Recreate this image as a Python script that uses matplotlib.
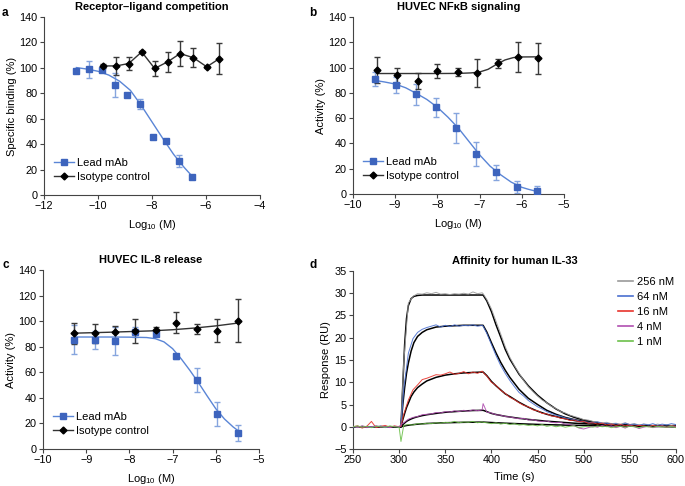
import numpy as np
import matplotlib
matplotlib.use("Agg")
import matplotlib.pyplot as plt
from matplotlib.lines import Line2D

plt.rcParams['font.family'] = ['Liberation Sans', 'DejaVu Sans']
plt.rcParams['font.size'] = 7.5
plt.rcParams['mathtext.fontset'] = 'custom'
plt.rcParams['mathtext.rm'] = 'Liberation Sans'
plt.rcParams['mathtext.default'] = 'regular'

# ---- panel a: receptor-ligand competition
a_lead_x = [-10.81, -10.33, -9.86, -9.38, -8.91, -8.43, -7.95, -7.48, -7.0, -6.52]
a_lead_y = [97.6, 98.7, 97.9, 86.4, 79.0, 71.4, 45.3, 42.7, 26.7, 14.1]
a_lead_err = [1.5, 7.0, 1.5, 9.5, 1.0, 4.0, 1.0, 1.0, 5.0, 1.5]
a_lead_fit_x = [-10.8, -10.4, -10.0, -9.6, -9.2, -8.8, -8.4, -8.0, -7.6, -7.2, -6.8, -6.5]
a_lead_fit_y = [100.2, 99.0, 97.3, 94.3, 89.5, 82.3, 70.5, 57.5, 44.5, 32.0, 21.5, 14.5]
a_iso_x = [-9.8, -9.32, -8.86, -8.38, -7.9, -7.42, -6.96, -6.47, -5.97, -5.5]
a_iso_y = [101.5, 101.5, 103.4, 112.5, 99.5, 104.7, 111.2, 108.0, 100.8, 107.3]
a_iso_err = [1.5, 7.0, 5.0, 1.0, 6.0, 8.0, 10.0, 7.5, 1.0, 12.0]

# ---- panel b: HUVEC NFkB signaling
b_lead_x = [-9.47, -8.99, -8.51, -8.03, -7.56, -7.08, -6.61, -6.12, -5.65]
b_lead_y = [90.9, 86.2, 78.8, 68.6, 52.0, 31.8, 17.1, 5.5, 2.1]
b_lead_err = [5.5, 6.0, 8.5, 7.5, 12.0, 9.5, 6.0, 4.5, 4.5]
b_lead_fit_x = [-9.47, -9.25, -9.0, -8.75, -8.5, -8.25, -8.0, -7.75, -7.5, -7.25,
                -7.0, -6.75, -6.5, -6.25, -6.0, -5.85, -5.65]
b_lead_fit_y = [89.8, 88.6, 87.0, 84.0, 79.6, 74.8, 68.6, 60.8, 52.0, 41.5,
                31.0, 22.0, 15.2, 9.4, 5.3, 3.8, 2.1]
b_iso_x = [-9.42, -8.95, -8.47, -8.0, -7.52, -7.05, -6.57, -6.09, -5.61]
b_iso_y = [98.0, 93.8, 89.3, 97.0, 96.4, 95.4, 103.5, 108.5, 107.2]
b_iso_err = [10.5, 6.0, 6.5, 5.5, 3.0, 11.0, 3.5, 12.0, 12.0]
b_iso_fit_x = [-9.42, -8.0, -7.5, -7.2, -7.0, -6.8, -6.6, -6.4, -6.2, -6.0, -5.6]
b_iso_fit_y = [95.3, 95.3, 95.4, 95.8, 96.5, 98.6, 102.5, 106.0, 107.9, 108.4, 108.5]

# ---- panel c: HUVEC IL-8 release
c_lead_x = [-9.28, -8.8, -8.33, -7.86, -7.38, -6.91, -6.44, -5.97, -5.49]
c_lead_y = [85.5, 85.0, 84.7, 91.5, 90.2, 72.5, 54.0, 27.6, 12.8]
c_lead_err = [11.5, 7.0, 11.0, 4.0, 2.0, 2.0, 9.5, 9.3, 6.3]
c_lead_fit_x = [-9.28, -8.5, -8.0, -7.6, -7.4, -7.2, -7.0, -6.8, -6.6, -6.4,
                -6.2, -6.0, -5.8, -5.6, -5.49]
c_lead_fit_y = [87.6, 87.6, 87.5, 87.2, 86.3, 83.8, 78.5, 70.5, 61.5, 51.8,
                41.5, 31.5, 23.5, 17.3, 14.5]
c_iso_x = [-9.28, -8.8, -8.33, -7.86, -7.38, -6.91, -6.44, -5.97, -5.49]
c_iso_y = [90.5, 90.5, 91.2, 92.3, 92.8, 98.8, 93.9, 92.5, 100.4]
c_iso_err = [8.0, 7.5, 5.0, 9.5, 3.0, 8.3, 4.0, 9.0, 17.0]
c_iso_fit_x = [-9.28, -8.5, -7.5, -7.0, -6.5, -6.0, -5.49]
c_iso_fit_y = [90.6, 91.3, 92.4, 93.3, 94.6, 96.3, 98.5]

# ---- panel d: affinity for human IL-33 (sensorgrams)
conc_labels = ['256 nM', '64 nM', '16 nM', '4 nM', '1 nM']
conc_colors = ['#9a9a9a', '#4a6fcf', '#e8342c', '#b04fb0', '#6cc04a']
t_raw = list(range(250, 301, 5)) + [302] + list(range(305, 391, 5)) + [391] + list(range(395, 601, 5))
raw_256 = [0.1, -0.2, 0.2, 0.0, -0.1, 0.2, 0.1, -0.2, 0.1, 0.0, 0.1, 0.2,
           14.5, 27.8, 29.3, 29.9, 29.8, 30.1, 29.9, 30.2, 29.8, 29.9, 29.7, 29.9, 29.8, 30.0, 29.8, 30.3, 29.9, 30.1, 29.9,
           28.6, 26.5, 23.7, 20.9, 18.0, 15.6, 13.7, 12.0, 10.4, 9.0, 7.9, 6.9, 6.0, 5.4, 4.6, 4.1, 3.4, 3.1, 2.6, 2.3, 2.0,
           1.6, 1.5, 1.2, 1.1, 0.9, 1.0, 0.7, 0.8, 0.6, 0.9, 0.5, 0.7, 0.4, 0.6, 0.5, 0.3, 0.6, 0.4, 0.5, 0.3, 0.5]
raw_64 = [-0.1, 0.1, -0.2, 0.1, 0.0, -0.1, 0.2, -0.1, 0.0, 0.1, -0.1, 0.1,
          8.5, 16.5, 19.8, 21.2, 21.9, 22.3, 22.6, 22.9, 22.4, 22.8, 22.5, 22.9, 22.6, 22.8, 22.7, 22.9, 22.6, 22.8, 22.6,
          21.0, 18.5, 16.0, 13.8, 12.0, 10.4, 9.0, 7.7, 6.9, 5.9, 5.2, 4.5, 4.0, 3.4, 3.0, 2.6, 2.4, 2.0, 1.8, 1.6, 1.3,
          1.2, 1.0, 0.9, 1.1, 0.7, 0.8, 0.5, 0.7, 0.4, 0.8, 0.5, 0.6, 0.3, 0.6, 0.4, 0.7, 0.3, 0.6, 0.4, 0.7, 0.5]
raw_16 = [0.0, 0.2, -0.3, 0.1, 1.2, -0.2, 0.1, 0.3, -0.1, 0.2, 0.0, 0.1,
          2.8, 6.0, 8.3, 9.4, 10.6, 10.9, 11.3, 11.7, 11.6, 11.9, 12.3, 11.8, 12.0, 12.4, 11.9, 12.3, 12.0, 12.5, 12.2,
          11.4, 10.0, 9.3, 8.2, 7.5, 6.6, 6.1, 5.4, 4.8, 4.5, 3.8, 3.6, 3.0, 2.9, 2.4, 2.3, 1.9, 1.8, 1.4, 1.5, 1.1,
          1.2, 0.8, 0.9, 0.6, 0.8, 0.4, 0.6, 0.3, 0.5, 0.2, 0.4, 0.1, 0.3, 0.2, 0.0, 0.3, 0.1, 0.2, -0.1, 0.2, 0.1]
raw_4 = [0.1, -0.1, 0.2, -0.2, 0.0, 0.2, -0.1, 0.1, -0.2, 0.1, 0.0, 0.5,
         0.9, 1.7, 2.1, 2.3, 2.7, 2.8, 2.9, 3.2, 3.1, 3.4, 3.3, 3.6, 3.4, 3.7, 3.5, 3.8, 3.6, 3.8, 5.2,
         3.3, 3.1, 2.7, 2.6, 2.3, 2.2, 2.0, 1.8, 1.9, 1.5, 1.6, 1.3, 1.2, 1.3, 1.0, 0.9, 1.0, 0.6, 0.5, 0.2, -0.3,
         -0.5, -0.2, 0.1, -0.1, 0.3, 0.0, 0.2, -0.2, 0.1, -0.3, 0.2, 0.0, -0.4, -0.1, 0.1, -0.2, 0.0, 0.2, -0.1, 0.1, 0.0]
raw_1 = [0.0, 0.2, -0.1, 0.1, -0.2, 0.1, 0.0, -0.1, 0.2, 0.0, -0.1, -3.3,
         0.3, 0.5, 0.4, 0.7, 0.6, 0.8, 0.7, 0.9, 0.8, 1.0, 0.9, 1.2, 0.9, 1.1, 1.0, 1.2, 0.9, 1.1, 1.0,
         0.9, 0.7, 0.9, 0.6, 0.8, 0.5, 0.7, 0.4, 0.5, 0.3, 0.4, 0.2, 0.5, 0.1, 0.3, 0.0, 0.2, -0.1, 0.1, 0.2, -0.2,
         0.0, 0.1, -0.1, 0.2, 0.0, 0.1, -0.2, 0.0, 0.1, -0.1, 0.1, 0.0, -0.2, 0.1, 0.0, -0.1, 0.1, 0.0, -0.1, 0.1, -0.2]

t_fit = [250, 302, 304, 306, 308, 310, 313, 316, 320, 325, 330, 340, 350, 360, 370, 380, 391,
         395, 400, 405, 410, 415, 420, 430, 440, 450, 460, 470, 480, 490, 500, 520, 540, 560, 580, 600]
fit_256 = [0, 0, 9.5, 18.5, 24.3, 27.2, 28.8, 29.3, 29.5, 29.6, 29.6, 29.6, 29.6, 29.6, 29.6, 29.6, 29.6,
           28.3, 25.9, 22.9, 20.2, 17.4, 15.2, 11.8, 9.2, 7.1, 5.4, 4.0, 2.9, 2.1, 1.5, 0.7, 0.35, 0.2, 0.1, 0.05]
fit_64 = [0, 0, 5.0, 8.8, 12.0, 14.3, 17.0, 18.9, 20.3, 21.2, 21.8, 22.4, 22.6, 22.7, 22.8, 22.8, 22.8,
          21.3, 18.9, 16.6, 14.5, 12.7, 11.1, 8.4, 6.4, 5.0, 3.7, 2.8, 2.1, 1.6, 1.2, 0.65, 0.35, 0.2, 0.1, 0.05]
fit_16 = [0, 0, 1.6, 3.0, 4.3, 5.3, 6.8, 7.8, 8.8, 9.6, 10.3, 11.1, 11.6, 11.9, 12.1, 12.2, 12.3,
          11.5, 10.2, 9.2, 8.3, 7.4, 6.8, 5.5, 4.4, 3.5, 2.8, 2.3, 1.8, 1.4, 1.1, 0.7, 0.4, 0.25, 0.15, 0.1]
fit_4 = [0, 0, 0.45, 0.85, 1.2, 1.45, 1.75, 2.0, 2.25, 2.5, 2.7, 3.0, 3.25, 3.4, 3.55, 3.65, 3.7,
         3.4, 3.0, 2.75, 2.55, 2.35, 2.2, 1.9, 1.65, 1.45, 1.25, 1.1, 0.95, 0.8, 0.7, 0.5, 0.35, 0.25, 0.18, 0.12]
fit_1 = [0, 0, 0.1, 0.2, 0.28, 0.35, 0.43, 0.5, 0.58, 0.66, 0.73, 0.83, 0.9, 0.95, 1.0, 1.02, 1.05,
         1.0, 0.95, 0.9, 0.85, 0.8, 0.76, 0.68, 0.6, 0.53, 0.47, 0.42, 0.37, 0.33, 0.29, 0.22, 0.17, 0.13, 0.1, 0.08]

raw_all = [raw_256, raw_64, raw_16, raw_4, raw_1]
fit_all = [fit_256, fit_64, fit_16, fit_4, fit_1]

blue_mk = '#3d64bd'
blue_ln = '#5a85d6'
blue_err = '#86a5de'

fig = plt.figure(figsize=(6.85, 4.86), dpi=100)
ax_a = fig.add_axes([0.0642, 0.5988, 0.3153, 0.3663])
ax_b = fig.add_axes([0.5153, 0.6008, 0.3080, 0.3642])
ax_c = fig.add_axes([0.0628, 0.0761, 0.3153, 0.3683])
ax_d = fig.add_axes([0.5153, 0.0761, 0.4715, 0.3663])


def style(ax):
    for s in ['top', 'right']:
        ax.spines[s].set_visible(False)
    ax.spines['left'].set_color('#444444')
    ax.spines['bottom'].set_color('#444444')
    ax.tick_params(direction='out', length=3, width=0.8, color='#444444', labelsize=7.8, pad=1.5)


def dose_panel(ax, lead, iso, iso_fit, title, ylabel, xlim, xticks):
    lx, ly, le, fx, fy = lead
    ix, iy, ie = iso
    ax.errorbar(lx, ly, yerr=le, fmt='none', ecolor=blue_err, elinewidth=1, capsize=2, capthick=1, zorder=2)
    ax.plot(fx, fy, color=blue_ln, lw=1, zorder=3)
    ax.errorbar(ix, iy, yerr=ie, fmt='none', ecolor='#3a3a3a', elinewidth=1, capsize=2, capthick=1, zorder=2)
    if iso_fit is None:
        ax.plot(ix, iy, color='#333333', lw=1, zorder=3)
    else:
        ax.plot(iso_fit[0], iso_fit[1], color='#333333', lw=1, zorder=3)
    ax.plot(lx, ly, 's', color=blue_mk, ms=4, zorder=4)
    ax.plot(ix, iy, 'D', color='black', ms=3.5, zorder=4)
    h1 = Line2D([], [], ls='-', marker='s', color=blue_ln, mfc=blue_mk, mec=blue_mk, ms=4, lw=1)
    h2 = Line2D([], [], ls='-', marker='D', color='#333333', mfc='black', mec='black', ms=3.5, lw=1)
    ax.legend([h1, h2], ['Lead mAb', 'Isotype control'], loc='lower left', bbox_to_anchor=(0.02, 0.04),
              frameon=False, fontsize=8, handlelength=1.8, handletextpad=0.3, labelspacing=0.4, borderpad=0)
    ax.set_xlim(*xlim)
    ax.set_ylim(0, 140)
    ax.set_xticks(xticks)
    ax.set_yticks(range(0, 141, 20))
    ax.set_title(title, fontsize=8, fontweight='bold', pad=5)
    ax.set_ylabel(ylabel, fontsize=8, labelpad=2)
    ax.set_xlabel('Log$_{10}$ (M)', fontsize=8, labelpad=5)
    style(ax)


dose_panel(ax_a, (a_lead_x, a_lead_y, a_lead_err, a_lead_fit_x, a_lead_fit_y),
           (a_iso_x, a_iso_y, a_iso_err), None,
           'Receptor\u2013ligand competition', 'Specific binding (%)', (-12, -4), range(-12, -3, 2))
dose_panel(ax_b, (b_lead_x, b_lead_y, b_lead_err, b_lead_fit_x, b_lead_fit_y),
           (b_iso_x, b_iso_y, b_iso_err), (b_iso_fit_x, b_iso_fit_y),
           'HUVEC NF\u03baB signaling', 'Activity (%)', (-10, -5), range(-10, -4))
dose_panel(ax_c, (c_lead_x, c_lead_y, c_lead_err, c_lead_fit_x, c_lead_fit_y),
           (c_iso_x, c_iso_y, c_iso_err), (c_iso_fit_x, c_iso_fit_y),
           'HUVEC IL-8 release', 'Activity (%)', (-10, -5), range(-10, -4))

# panel d: fits underneath, raw traces drawn thin on top
for fit in fit_all:
    ax_d.plot(t_fit, fit, color='black', lw=1.1, zorder=2)
for raw, col in zip(raw_all, conc_colors):
    ax_d.plot(t_raw, raw, color=col, lw=0.7, alpha=0.9, zorder=3)
ax_d.set_xlim(250, 600)
ax_d.set_ylim(-5, 35)
ax_d.set_xticks(range(250, 601, 50))
ax_d.set_yticks(range(-5, 36, 5))
ax_d.set_title('Affinity for human IL-33', fontsize=8, fontweight='bold', pad=5)
ax_d.set_xlabel('Time (s)', fontsize=8, labelpad=5)
ax_d.set_ylabel('Response (RU)', fontsize=8, labelpad=2)
handles = [Line2D([], [], color=c, lw=1.2) for c in conc_colors]
ax_d.legend(handles, conc_labels, loc='upper right', bbox_to_anchor=(1.01, 1.0), frameon=False, fontsize=8,
            handlelength=1.4, handletextpad=0.3, labelspacing=0.45, borderpad=0)
style(ax_d)

for lab, x, y in [('a', 0.003, 0.985), ('b', 0.452, 0.985), ('c', 0.003, 0.467), ('d', 0.452, 0.467)]:
    fig.text(x, y, lab, fontsize=8.5, fontweight='bold', va='top')

fig.savefig('out.png', dpi=100)
